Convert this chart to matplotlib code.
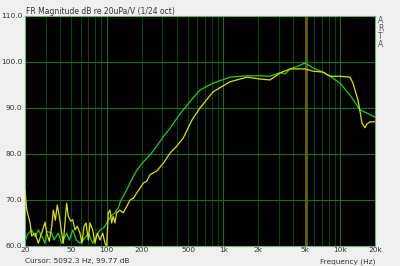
import matplotlib
matplotlib.use("Agg")
import matplotlib.pyplot as plt
from matplotlib.ticker import FixedLocator, NullFormatter

# green trace (Hz, dB)
green_f = [20, 21, 22.8, 24.4, 26, 27.8, 29.7, 30.7, 33.9, 35.5, 38.5, 41.3, 45.5, 48,
           51.3, 55, 59, 64, 70, 76, 82, 88, 95, 103.5, 110.7, 118, 126, 133, 144, 159,
           176, 194, 214, 240, 269, 307, 350, 426, 530, 632, 817, 1144, 1599, 2066, 2518,
           3068, 3400, 3736, 4400, 5024, 5881, 7166, 8222, 10020, 12220, 14870, 17060, 20000]
green_db = [61.0, 62.5, 63.5, 62.0, 63.5, 62.2, 60.6, 63.2, 62.8, 61.3, 62.8, 60.6, 62.8, 61.3,
            63.5, 61.3, 60.6, 61.5, 62.8, 60.6, 62.2, 63.5, 64.0, 65.6, 66.7, 67.2, 68.3, 70.0, 71.5, 73.7,
            75.9, 77.4, 78.7, 80.0, 81.7, 83.8, 85.6, 88.7, 91.7, 93.9, 95.4, 96.7, 97.0, 97.0, 96.9,
            97.7, 97.4, 98.5, 99.1, 99.8, 98.7, 97.8, 96.9, 95.4, 92.8, 89.6, 88.9, 88.0]

# yellow trace (Hz, dB)
yellow_f = [20, 20.7, 22.1, 22.8, 24.4, 26.0, 27.8, 29.7, 30.7, 32.3, 33.9, 35.0, 36.4, 37.8,
            39.4, 41.3, 42.6, 44.0, 45.5, 47.0, 49.3, 51.3, 53.7, 56.1, 59.2, 61.6, 64.1, 66.7,
            69.8, 72.1, 76.1, 79.6, 83.3, 87.9, 92.7, 97.0, 100.3, 103.5, 107, 110.7, 114, 118,
            122, 130, 139, 149, 159, 170, 181, 194, 207, 221, 236, 269, 307, 350, 399, 455, 540,
            632, 817, 1144, 1599, 2066, 2518, 3068, 3736, 5024, 5881, 7166, 8222, 10020, 12220,
            12940, 14300, 15480, 16400, 17060, 18120, 20000]
yellow_db = [72.2, 67.9, 65.0, 62.2, 62.8, 60.6, 62.8, 65.2, 62.8, 61.0, 64.3, 67.8, 65.6, 68.9,
             66.4, 62.8, 60.6, 65.0, 69.3, 66.5, 65.4, 65.7, 63.5, 64.3, 62.8, 60.6, 64.3, 65.0,
             61.3, 65.0, 63.5, 60.6, 62.8, 61.3, 62.8, 60.6, 60.0, 67.2, 67.8, 65.0, 66.5, 65.0,
             67.2, 67.8, 67.2, 68.6, 70.0, 70.4, 71.5, 72.6, 73.7, 74.1, 75.5, 76.3, 78.0, 80.2, 81.7, 83.5, 87.4,
             90.0, 93.5, 95.7, 96.7, 96.3, 96.1, 97.6, 98.5, 98.5, 98.0, 97.8, 96.9, 96.9, 96.7,
             95.4, 91.7, 86.7, 85.7, 86.5, 87.0, 87.0]

x_ticks = [20, 50, 100, 200, 500, 1000, 2000, 5000, 10000, 20000]
x_labels = ["20", "50", "100", "200", "500", "1k", "2k", "5k", "10k", "20k"]
y_ticks = [60, 70, 80, 90, 100, 110]
cursor_f = 5092.3

fig = plt.figure(figsize=(4, 2.66), dpi=100, facecolor="#f0f0f0")
ax = fig.add_axes([25 / 400, 1 - 246 / 266, 350 / 400, 230 / 266])
ax.set_facecolor("black")
ax.set_xscale("log")
ax.set_xlim(20, 20000)
ax.set_ylim(60, 110)

# grid lines at every integer multiple
minor = []
for dec in [10, 100, 1000, 10000]:
    for m in range(2, 10):
        v = dec * m
        if 20 < v < 20000:
            minor.append(v)
for v in minor:
    ax.axvline(v, color="#0b420b", lw=0.8, zorder=1)
for v in [100, 1000, 10000]:
    ax.axvline(v, color="#1a6e1a", lw=0.8, zorder=1)
for v in [70, 80, 90, 100]:
    ax.axhline(v, color="#1a6e1a", lw=0.8, zorder=1)
ax.axvline(cursor_f, color="#6a6000", lw=2, zorder=1)

ax.plot(green_f, green_db, color="#22cc22", lw=0.9, zorder=3)
ax.plot(yellow_f, yellow_db, color="#e0e000", lw=0.9, zorder=4)

ax.xaxis.set_major_locator(FixedLocator(x_ticks))
ax.set_xticklabels(x_labels)
ax.xaxis.set_minor_formatter(NullFormatter())
ax.xaxis.set_minor_locator(FixedLocator([]))
ax.set_yticks(y_ticks)
ax.set_yticklabels(["%.1f" % v for v in y_ticks])
ax.tick_params(length=0, labelsize=5.3, colors="#333333")
ax.tick_params(axis="x", pad=0.8)
ax.tick_params(axis="y", pad=2)
for s in ax.spines.values():
    s.set_color("#70b070")
    s.set_linewidth(0.8)

fig.text(26 / 400, 1 - 12 / 266, "FR Magnitude dB re 20uPa/V (1/24 oct)", fontsize=5.5,
         color="#333333", va="center", ha="left")
fig.text(378 / 400, 1 - 16 / 266, "A\nR\nT\nA", fontsize=5.5, color="#555555",
         va="top", ha="left", linespacing=0.85)
fig.text(25 / 400, 1 - 261.5 / 266, "Cursor: 5092.3 Hz, 99.77 dB", fontsize=5.3,
         color="#333333", va="center", ha="left")
fig.text(375 / 400, 1 - 261.5 / 266, "Frequency (Hz)", fontsize=5.3,
         color="#333333", va="center", ha="right")

fig.savefig("out.png", dpi=100, facecolor=fig.get_facecolor())
